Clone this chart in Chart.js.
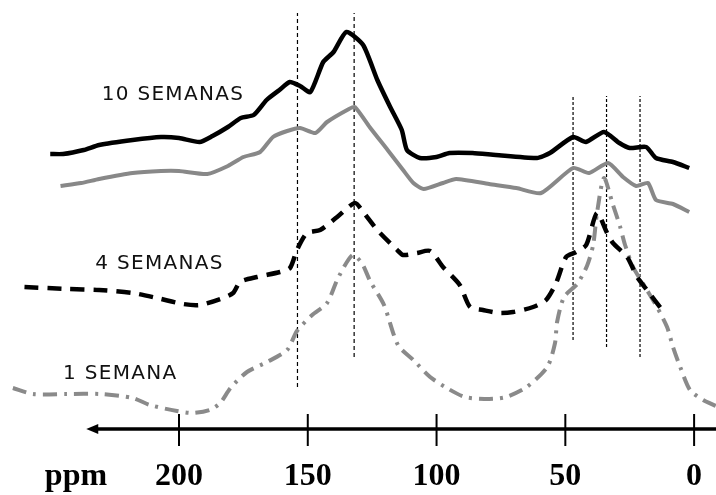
<!DOCTYPE html>
<html>
<head>
<meta charset="utf-8">
<script src="https://cdn.jsdelivr.net/npm/chart.js@4"></script>
<style>
  html, body { margin: 0; padding: 0; background: #fff; }
  #wrap { width: 716px; height: 495px; }
</style>
</head>
<body>
<div id="wrap"><canvas id="rmnChart"></canvas></div>
<script>
// espectros (ppm, intensidad relativa)
var sem10Ppm = [250, 245, 237, 231, 218, 207, 200, 192, 187, 181, 176, 171, 166, 161, 157, 153, 149, 144, 140, 135, 128.5, 123, 118, 113.5, 111.5, 106.5, 100, 95, 86, 77, 61, 56, 47, 42, 35, 29, 25, 18.6, 14.8, 8.2, 1.9];
var sem10Int = [275, 275, 279, 284, 289, 292, 291, 287, 293, 302, 311, 314, 329, 339, 347, 343, 337, 367, 377, 397, 384, 349, 322, 299, 279, 271, 272, 276, 276, 274, 271, 276, 292, 287, 297, 286, 281, 282, 271, 267, 261];

var sem10bPpm = [246, 238, 231, 218, 207, 200, 189, 181, 175, 168.5, 163.5, 158, 153, 147, 142.5, 134, 131.7, 126, 119, 113, 109, 105, 97.5, 92.4, 79.6, 69, 59.4, 47, 40.8, 33.4, 27.6, 22.5, 17.9, 14.8, 8.2, 1.9];
var sem10bInt = [243, 246, 250, 256, 258, 258, 255, 263, 272, 277, 292, 298, 301, 296, 307, 320, 322, 302, 279, 259, 246, 240, 246, 250, 245, 241, 236, 261, 256, 266, 252, 243, 246, 229, 225, 217];

var sem4Ppm = [260, 243.5, 231, 218, 208.5, 198.4, 192, 184, 179, 176.3, 169.7, 160.8, 156.9, 154.2, 150.3, 145.2, 138.6, 131.7, 128.5, 123, 115.3, 113, 107.6, 102.5, 97.5, 91, 87, 82, 75.7, 70.3, 62.5, 57.5, 53.6, 49.7, 45.8, 41.9, 37.7, 33.8, 31.5, 26, 22.1, 18.3, 12.4];
var sem4Int = [142, 140, 139, 136, 131, 125, 124, 130, 136, 147, 152, 157, 161, 179, 196, 199, 212, 226, 217, 199, 179, 174, 176, 178, 162, 144, 122, 119, 116, 117, 122, 129, 146, 172, 177, 184, 216, 196, 186, 172, 152, 139, 119];

var sem1Ppm = [264.5, 256.7, 243.5, 230.7, 218, 211.3, 200.8, 194.6, 188, 184, 180, 173.6, 165.8, 158, 154.2, 148.3, 142.5, 138.6, 134.8, 132.4, 129, 125.8, 120.4, 115, 109, 102.5, 96, 89, 79.6, 73, 65, 57, 54, 53.2, 50.5, 45.4, 41.6, 39.2, 37.7, 35, 31.5, 28.7, 26.8, 23.7, 18.3, 14.4, 10.5, 8.2, 5.4, 1.6, -3.5, -8.5];
var sem1Int = [41, 35, 35, 35, 31, 24, 18, 16, 19, 26, 41, 57, 67, 79, 98, 114, 126, 149, 167, 174, 166, 148, 124, 84, 69, 52, 41, 32, 30, 32, 42, 62, 86, 107, 132, 145, 163, 184, 216, 251, 224, 202, 184, 162, 139, 122, 102, 82, 62, 39, 29, 23];

// lineas de referencia verticales
var refPpm = [154, 132, 47, 34, 21];
var refTop = [416, 416, 333, 333, 333];
var refBottom = [42, 72, 89, 82, 72];

// eje
var tickValues = [240, 200, 150, 100, 50, 0];
var tickLabels = ['ppm', '200', '150', '100', '50', '0'];
var axisStartPpm = 236;

// rotulos de las curvas
var rotulos = ['10 SEMANAS', '4 SEMANAS', '1 SEMANA'];
var rotuloPpm = [230, 232.5, 245];
var rotuloInt = [334, 165, 55];

function puntos(xs, ys) {
    return xs.map(function(x, i) { return { x: x, y: ys[i] }; });
}

var datasets = [
    { data: puntos(sem10Ppm, sem10Int), borderColor: '#000', borderWidth: 4.5, tension: 0.2, order: 1 },
    { data: puntos(sem10bPpm, sem10bInt), borderColor: '#888', borderWidth: 4, tension: 0.2, order: 2 },
    { data: puntos(sem4Ppm, sem4Int), borderColor: '#000', borderWidth: 4.5, borderDash: [14, 9], tension: 0.25, order: 3 },
    { data: puntos(sem1Ppm, sem1Int), borderColor: '#8a8a8a', borderWidth: 4, borderDash: [14, 7, 3, 7], tension: 0.25, order: 4 }
];
refPpm.forEach(function(p, i) {
    datasets.push({
        data: [{ x: p, y: refBottom[i] }, { x: p, y: refTop[i] }],
        borderColor: '#000', borderWidth: 1.2,
        borderDash: i < 2 ? [4, 3] : [3, 2],
        order: 10
    });
});

var ejePlugin = {
    id: 'eje',
    afterDraw: function(chart) {
        var ctx = chart.ctx;
        var xs = chart.scales.x, ys = chart.scales.y;
        var y0 = ys.getPixelForValue(0);
        var xStart = xs.getPixelForValue(axisStartPpm);
        ctx.save();
        ctx.strokeStyle = '#000';
        ctx.fillStyle = '#000';
        ctx.lineWidth = 3.5;
        ctx.beginPath();
        ctx.moveTo(xStart + 8, y0);
        ctx.lineTo(chart.width, y0);
        ctx.stroke();
        // punta de flecha
        ctx.beginPath();
        ctx.moveTo(xStart, y0);
        ctx.lineTo(xStart + 12, y0 - 5);
        ctx.lineTo(xStart + 12, y0 + 5);
        ctx.closePath();
        ctx.fill();
        // marcas
        ctx.lineWidth = 2;
        tickValues.forEach(function(v, i) {
            if (tickLabels[i] === 'ppm') return;
            var px = xs.getPixelForValue(v);
            ctx.beginPath();
            ctx.moveTo(px, y0 - 15);
            ctx.lineTo(px, y0 + 17);
            ctx.stroke();
        });
        // rotulos
        ctx.font = '20px "DejaVu Sans"';
        ctx.letterSpacing = '1.3px';
        ctx.textBaseline = 'middle';
        ctx.textAlign = 'left';
        ctx.fillStyle = '#111';
        rotulos.forEach(function(t, i) {
            ctx.fillText(t, xs.getPixelForValue(rotuloPpm[i]), ys.getPixelForValue(rotuloInt[i]));
        });
        ctx.restore();
    }
};

new Chart(document.getElementById('rmnChart'), {
    type: 'line',
    data: { datasets: datasets },
    options: {
        responsive: true, maintainAspectRatio: false, animation: false,
        layout: { padding: { left: 0, right: 0, top: 0, bottom: 2 } },
        elements: { point: { radius: 0 }, line: { borderCapStyle: 'butt', borderJoinStyle: 'round' } },
        plugins: { legend: { display: false }, tooltip: { enabled: false } },
        scales: {
            x: {
                type: 'linear', reverse: true, min: -8.5, max: 269.5,
                grid: { display: true, drawOnChartArea: false, drawTicks: true, tickLength: 32, color: 'rgba(0,0,0,0)' },
                border: { display: false },
                afterBuildTicks: function(scale) {
                    scale.ticks = tickValues.map(function(v) { return { value: v }; });
                },
                ticks: {
                    autoSkip: false, maxRotation: 0, padding: 0, color: '#000',
                    font: { family: '"Liberation Serif", "Times New Roman", serif', size: 32, weight: 'bold', lineHeight: 1 },
                    callback: function(v, i) { return tickLabels[i]; }
                }
            },
            y: { display: false, min: 0, max: 429 }
        }
    },
    plugins: [ejePlugin]
});
</script>
</body>
</html>
